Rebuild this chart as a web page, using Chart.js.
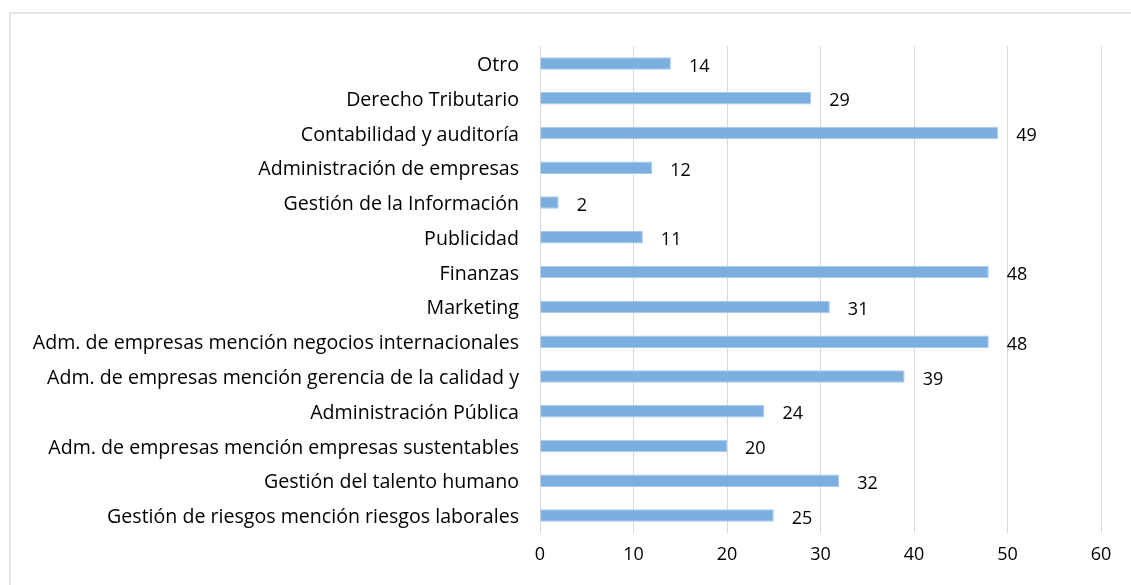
<!DOCTYPE html>
<html>
<head>
<meta charset="utf-8">
<script src="https://cdn.jsdelivr.net/npm/chart.js@4/dist/chart.umd.min.js"></script>
<style>
  html, body { margin: 0; padding: 0; background: #fff; overflow: hidden; }
  #wrap { position: relative; width: 1131px; height: 585px; }
  #frame { position: absolute; left: 9px; top: 12px; width: 1200px; height: 700px;
           border: 2px solid #e4e4e4; box-sizing: border-box; }
  canvas { position: absolute; left: 0; top: 0; }
</style>
</head>
<body>
<div id="wrap">
  <div id="frame"></div>
  <canvas id="chart" width="1131" height="585"></canvas>
</div>
<script>
// categories, top to bottom as shown
const categories = [
  "Otro",
  "Derecho Tributario",
  "Contabilidad y auditoría",
  "Administración de empresas",
  "Gestión de la Información",
  "Publicidad",
  "Finanzas",
  "Marketing",
  "Adm. de empresas mención negocios internacionales",
  "Adm. de empresas mención gerencia de la calidad y",
  "Administración Pública",
  "Adm. de empresas mención empresas sustentables",
  "Gestión del talento humano",
  "Gestión de riesgos mención riesgos laborales"
];

const values = [14, 29, 49, 12, 2, 11, 48, 31, 48, 39, 24, 20, 32, 25];

const xTicks = [0, 10, 20, 30, 40, 50, 60];

const FONT = "'Open Sans', sans-serif";
const LABEL_SIZE = 19.6;
const NUM_SIZE = 18;

// value labels at the end of each bar
const valueLabels = {
  id: "valueLabels",
  afterDatasetsDraw(chart) {
    const c = chart.ctx;
    const meta = chart.getDatasetMeta(0);
    c.save();
    c.font = NUM_SIZE + "px " + FONT;
    c.fillStyle = "#000";
    c.textAlign = "left";
    c.textBaseline = "middle";
    meta.data.forEach((bar, i) => {
      c.fillText(String(values[i]), bar.x + 18, bar.y + 3);
    });
    c.restore();
  }
};

const ctx = document.getElementById("chart");

let chart = new Chart(ctx, {
  type: "bar",
  data: {
    labels: categories,
    datasets: [
      {
        label: "Valores",
        data: values,
        backgroundColor: "#7BAFDF",
        borderColor: "#A9CBEB",
        borderWidth: 1,
        barPercentage: 0.36,
        categoryPercentage: 1.0
      }
    ]
  },
  plugins: [valueLabels],
  options: {
    responsive: false,
    animation: false,
    indexAxis: "y",
    layout: {
      padding: { left: 0, right: 30, top: 46, bottom: 0 }
    },
    plugins: {
      legend: { display: false },
      tooltip: { enabled: false }
    },
    scales: {
      x: {
        min: 0,
        max: 60,
        afterBuildTicks: axis => {
          axis.ticks = xTicks.map(v => ({ value: v }));
        },
        afterFit: axis => { axis.height = 52; },
        border: { display: false },
        grid: {
          color: "#d9d9d9",
          lineWidth: 1,
          drawTicks: false
        },
        ticks: {
          color: "#000",
          padding: 11,
          font: { family: FONT, size: NUM_SIZE }
        }
      },
      y: {
        afterFit: axis => { axis.width = 540; },
        border: { display: false },
        grid: { display: false, drawTicks: false },
        ticks: {
          color: "#000",
          padding: 21,
          labelOffset: 2,
          autoSkip: false,
          font: { family: FONT, size: LABEL_SIZE }
        }
      }
    }
  }
});
</script>
</body>
</html>
